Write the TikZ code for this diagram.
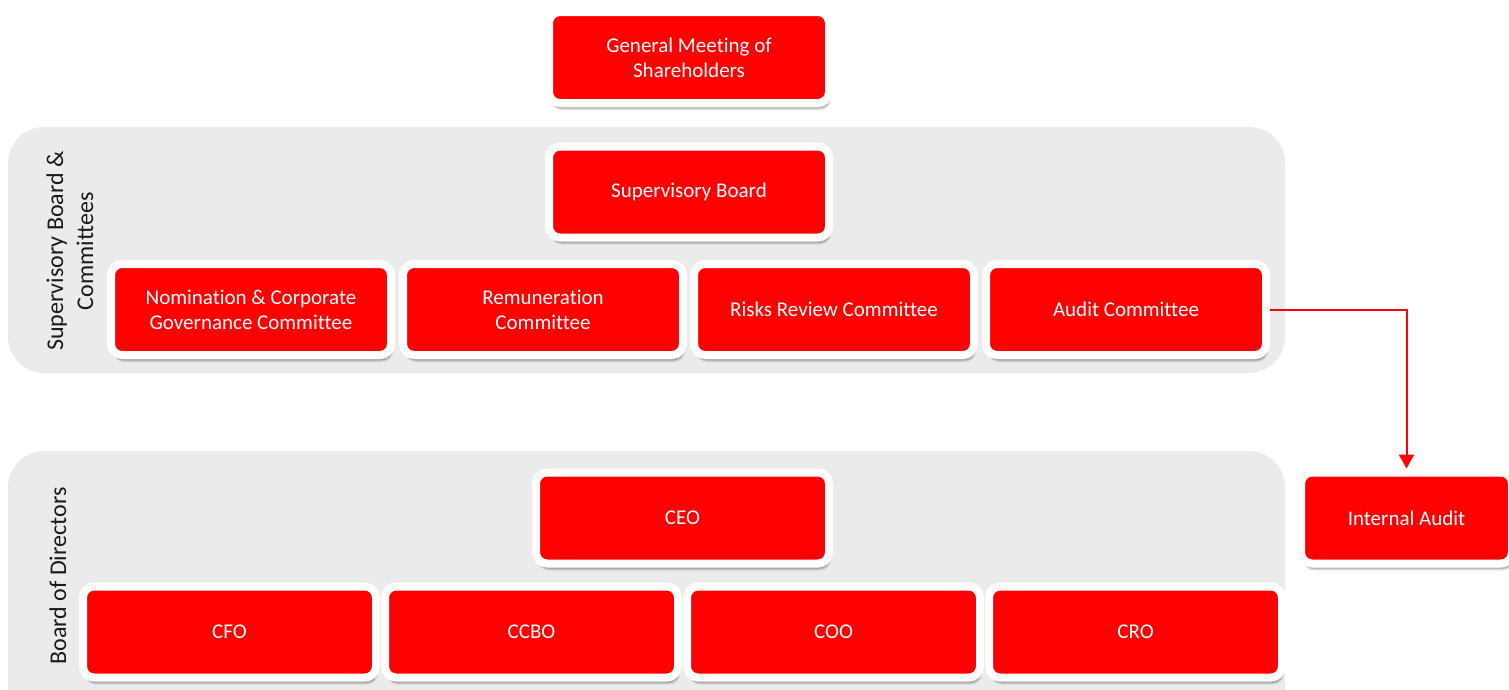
\documentclass[tikz,border=0pt]{standalone}
\usepackage{fontspec}
\setmainfont{Carlito}[Ligatures=NoCommon]
\usetikzlibrary{arrows.meta,shadows}
\definecolor{panelgray}{HTML}{EBEBEB}
\definecolor{boxred}{HTML}{FF0000}
\definecolor{labelink}{HTML}{1A1A1A}
\begin{document}
\begin{tikzpicture}[x=1pt,y=-1pt,
  orgbox/.style={draw=white, line width=8pt, fill=boxred, rounded corners=11pt,
    text=white, align=center, font=\fontsize{21}{25}\selectfont,
    minimum height=91, inner sep=0pt,
    general shadow={shadow scale=1.025, shadow yshift=-1pt, fill=black, opacity=0.07},
    general shadow={shadow xshift=2pt, shadow yshift=-7pt, fill=black, opacity=0.12},
    general shadow={shadow xshift=1.5pt, shadow yshift=-5.5pt, fill=black, opacity=0.18}},
  panel/.style={fill=panelgray, rounded corners=36pt},
  sidelabel/.style={rotate=90, align=center, text=labelink,
    font=\fontsize{24}{30}\selectfont},
  link/.style={draw=boxred, line width=2pt, -{Triangle[length=14pt,width=15pt]}}
]
\useasboundingbox (0,0) rectangle (1509,689);
\clip (0,0) rectangle (1509,689);

% grey group panels
\fill[panel] (8,127) rectangle (1285,373);
\fill[panel] (8,451) rectangle (1285,740);

\node[sidelabel] (lsup) at (70,251) {Supervisory Board \&\\Committees};
\node[sidelabel] (lbod) at (58,576) {Board of Directors};

% shareholders and supervisory board
\node[orgbox, minimum width=280] (gm) at (689,57.5) {General Meeting of\\Shareholders};
\node[orgbox, minimum width=280] (sb) at (689,192) {Supervisory Board};

% committees
\node[orgbox, minimum width=280] (nom) at (251,309.5) {Nomination \& Corporate\\Governance Committee};
\node[orgbox, minimum width=280] (rem) at (543,309.5) {Remuneration\\Committee};
\node[orgbox, minimum width=280] (risk) at (834,309.5) {Risks Review Committee};
\node[orgbox, minimum width=280] (audit) at (1126,309.5) {Audit Committee};

% internal audit
\node[orgbox, minimum width=211] (ia) at (1406.5,518) {Internal Audit};

% board of directors
\node[orgbox, minimum width=293] (ceo) at (682.5,518) {CEO};
\node[orgbox, minimum width=293] (cfo) at (229.5,632) {CFO};
\node[orgbox, minimum width=293] (ccbo) at (531.5,632) {CCBO};
\node[orgbox, minimum width=293] (coo) at (833.5,632) {COO};
\node[orgbox, minimum width=293] (cro) at (1135.5,632) {CRO};

% reporting line
\draw[link] (audit.east) -| (ia.north);
\end{tikzpicture}
\end{document}
